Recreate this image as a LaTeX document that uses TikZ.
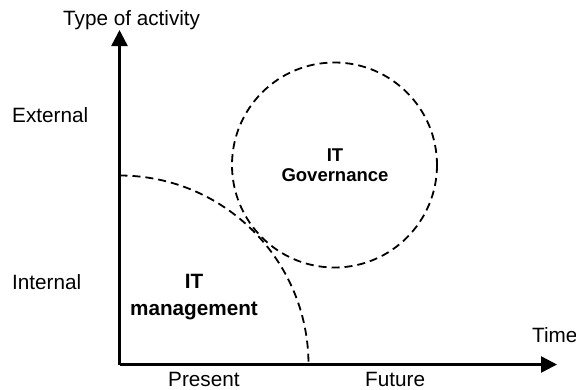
\documentclass[tikz,border=0pt]{standalone}
\usepackage{fontspec}
\setmainfont{Liberation Sans}
\usetikzlibrary{arrows.meta}
\begin{document}
\begin{tikzpicture}[x=1pt,y=-1pt,
  axis/.style={line width=2.5pt,-{Triangle[length=16pt,width=16pt]}},
  dashline/.style={line width=1.8pt,dash pattern=on 8pt off 5pt},
  lbl/.style={inner sep=0pt,font=\fontsize{20.7}{24}\selectfont},
  bold/.style={inner sep=0pt,align=center,font=\fontsize{20.7}{27}\selectfont\bfseries}]
\useasboundingbox (0,0) rectangle (576,389);
\coordinate (O) at (119.5,364.5);
\coordinate (ytip) at (119.5,30);
\coordinate (xtip) at (557,364.5);
\draw[dashline] (119.5,175.5) arc[start angle=270,end angle=360,radius=189];
\draw[dashline] (334.5,165) circle[radius=102.5];
\draw[axis] (O) -- (ytip);
\draw[axis] (O) -- (xtip);
\node[lbl,anchor=base west] (ylab) at (63,25) {Type of activity};
\node[lbl,anchor=base west] (ext) at (12,122) {External};
\node[lbl,anchor=base west] (int) at (12,289) {Internal};
\node[lbl,anchor=base west] (pres) at (168,386) {Present};
\node[lbl,anchor=base west] (fut) at (365,386) {Future};
\node[lbl,anchor=base west] (time) at (532,342) {Time};
\node[bold,anchor=north] (itm) at (194,274) {IT\\management};
\node[bold,anchor=north,font=\fontsize{18.5}{19.5}\selectfont\bfseries] (itg) at (335,149) {IT\\Governance};
\end{tikzpicture}
\end{document}
